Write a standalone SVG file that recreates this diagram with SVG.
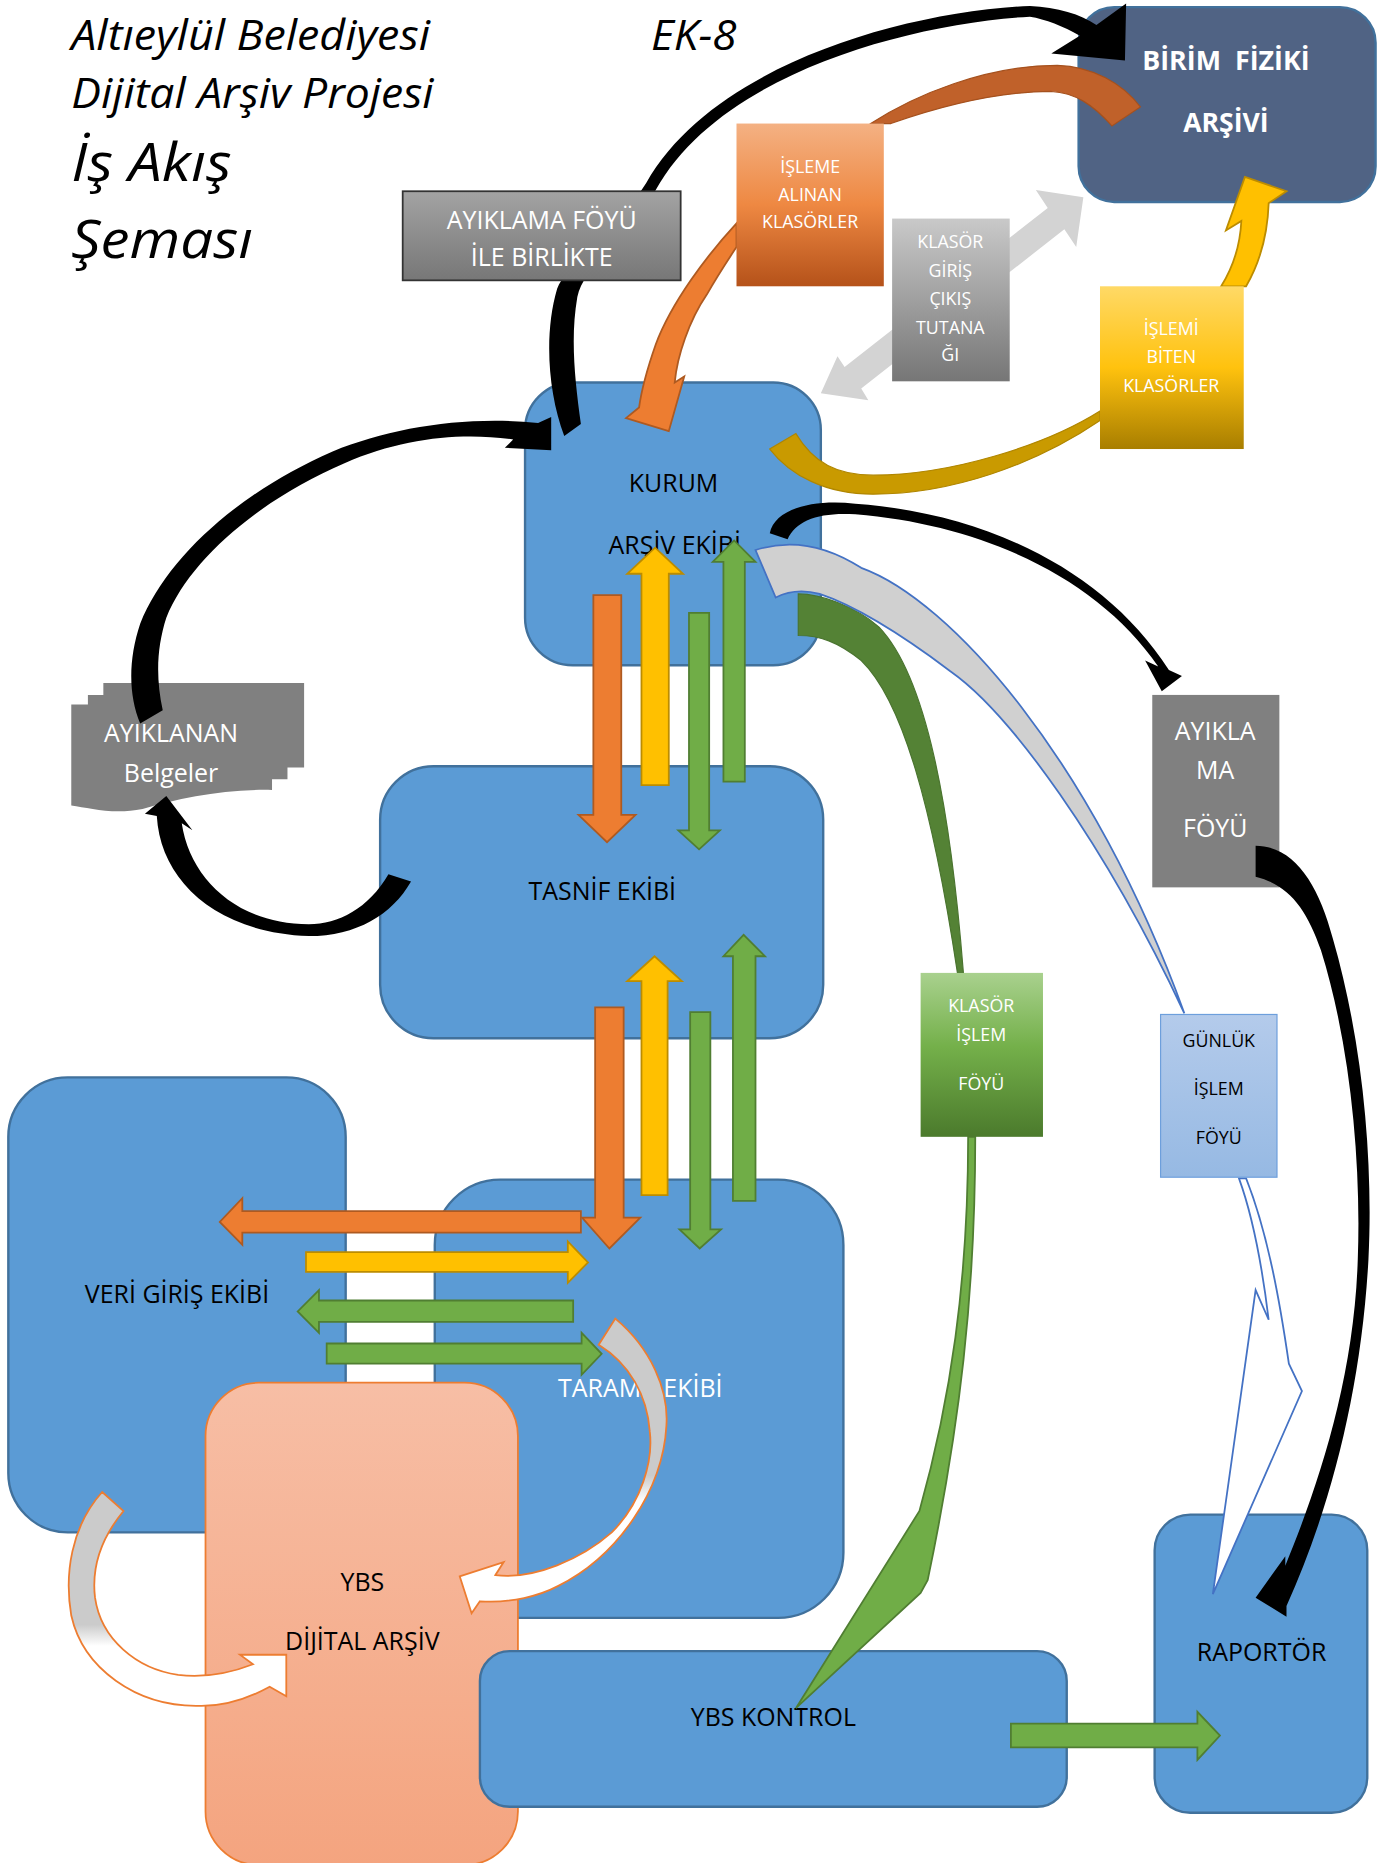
<svg xmlns="http://www.w3.org/2000/svg" width="1391" height="1863" viewBox="0 0 1391 1863">
<defs>
<style>
.f{font-family:"Open Sans","Liberation Sans",sans-serif}
.ti{font-family:"Open Sans","Liberation Sans",sans-serif;font-style:italic;fill:#000}
.lb{font-size:21px;fill:#000;text-anchor:middle}
.lw{font-size:21px;fill:#fff;text-anchor:middle}
.sw{font-size:15px;fill:#fff;text-anchor:middle}
.sb{font-size:15px;fill:#000;text-anchor:middle}
.box{fill:#5b9bd5;stroke:#41719c;stroke-width:2}
.or{fill:#ed7d31;stroke:#ae5a21;stroke-width:1.5}
.ye{fill:#ffc000;stroke:#bc8c00;stroke-width:1.5}
.gr{fill:#70ad47;stroke:#507e32;stroke-width:1.5}
.bk{fill:#000}
</style>
<linearGradient id="gOr" x1="0" y1="0" x2="0" y2="1"><stop offset="0" stop-color="#f4b183"/><stop offset="0.5" stop-color="#ee8842"/><stop offset="1" stop-color="#b5521a"/></linearGradient>
<linearGradient id="gGray" x1="0" y1="0" x2="0" y2="1"><stop offset="0" stop-color="#c9c9c9"/><stop offset="1" stop-color="#767676"/></linearGradient>
<linearGradient id="gYel" x1="0" y1="0" x2="0" y2="1"><stop offset="0" stop-color="#ffd966"/><stop offset="0.5" stop-color="#ffc20e"/><stop offset="1" stop-color="#a87e00"/></linearGradient>
<linearGradient id="gGrn" x1="0" y1="0" x2="0" y2="1"><stop offset="0" stop-color="#a9d18e"/><stop offset="0.45" stop-color="#74b04a"/><stop offset="1" stop-color="#4b7a2c"/></linearGradient>
<linearGradient id="gBlu" x1="0" y1="0" x2="0" y2="1"><stop offset="0" stop-color="#b4cbeb"/><stop offset="1" stop-color="#96b9e3"/></linearGradient>
<linearGradient id="gDark" x1="0" y1="0" x2="0" y2="1"><stop offset="0" stop-color="#a3a3a3"/><stop offset="1" stop-color="#777777"/></linearGradient>
<linearGradient id="gPeach" x1="0" y1="0" x2="0" y2="1"><stop offset="0" stop-color="#f7bea5"/><stop offset="1" stop-color="#f4a47f"/></linearGradient>
<linearGradient id="gJ" gradientUnits="userSpaceOnUse" x1="0" y1="1110" x2="0" y2="1350"><stop offset="0" stop-color="#cbcbcb"/><stop offset="0.55" stop-color="#cbcbcb"/><stop offset="0.64" stop-color="#ffffff"/></linearGradient>
<linearGradient id="gK" gradientUnits="userSpaceOnUse" x1="0" y1="1256" x2="0" y2="1436"><stop offset="0" stop-color="#cbcbcb"/><stop offset="0.62" stop-color="#cbcbcb"/><stop offset="0.72" stop-color="#ffffff"/></linearGradient>
</defs>
<rect width="1391" height="1863" fill="#ffffff"/>
<g transform="scale(1.1879)">

<g id="title">
<text class="ti" x="60" y="42" font-size="35" textLength="302" lengthAdjust="spacingAndGlyphs">Altıeylül Belediyesi</text>
<text class="ti" x="60" y="91" font-size="35" textLength="305" lengthAdjust="spacingAndGlyphs">Dijital Arşiv Projesi</text>
<text class="ti" x="60" y="152" font-size="44" textLength="135" lengthAdjust="spacingAndGlyphs">İş Akış</text>
<text class="ti" x="60" y="217" font-size="44" textLength="153" lengthAdjust="spacingAndGlyphs">Şeması</text>
<text class="ti" x="548" y="42" font-size="35" textLength="72" lengthAdjust="spacingAndGlyphs">EK-8</text>
</g>

<g id="birim-fiziki-arsivi">
<rect x="908" y="6" width="250" height="164" rx="30" fill="#506384" stroke="#41719c" stroke-width="2"/>
<text class="f" x="1032" y="59" font-size="22" font-weight="bold" fill="#fff" text-anchor="middle" xml:space="preserve" textLength="141" lengthAdjust="spacingAndGlyphs">BİRİM  FİZİKİ</text>
<text class="f" x="1032" y="111" font-size="22" font-weight="bold" fill="#fff" text-anchor="middle" textLength="72" lengthAdjust="spacingAndGlyphs">ARŞİVİ</text>
</g>

<g id="kurum-arsiv-ekibi">
<rect class="box" x="442" y="322" width="249" height="238" rx="40"/>
<text class="f lb" x="567" y="414">KURUM</text>
<text class="f lb" x="568" y="466">ARŞİV EKİBİ</text>
</g>

<g id="tasnif-ekibi">
<rect class="box" x="320" y="645" width="373" height="229" rx="45"/>
<text class="f lb" x="507" y="758">TASNİF EKİBİ</text>
</g>

<g id="veri-giris-ekibi">
<rect class="box" x="7" y="907" width="284" height="383" rx="50"/>
<text class="f lb" x="149" y="1097">VERİ GİRİŞ EKİBİ</text>
</g>

<g id="tarama-ekibi">
<rect class="box" x="366" y="993" width="344" height="369" rx="55"/>
<text class="f lw" x="539" y="1176">TARAMA EKİBİ</text>
</g>

<g id="ybs-dijital-arsiv">
<rect x="173" y="1164" width="263" height="406" rx="45" fill="url(#gPeach)" stroke="#ed7d31" stroke-width="1.5"/>
<text class="f lb" x="305" y="1339">YBS</text>
<text class="f lb" x="305" y="1389">DİJİTAL ARŞİV</text>
</g>

<g id="ybs-kontrol">
<rect class="box" x="404" y="1390" width="494" height="131" rx="25"/>
<text class="f lb" x="651" y="1453">YBS KONTROL</text>
</g>

<g id="raportor">
<rect class="box" x="972" y="1275" width="179" height="251" rx="30"/>
<text class="f lb" x="1062" y="1398">RAPORTÖR</text>
</g>

<g id="ayiklanan-belgeler">
<path d="M60,593 H74 V585 H87 V575 H256 V646 H242 V656 H229 V665 C190,664 150,672 120,681 C95,686 75,680 60,678 Z" fill="#808080"/>
<text class="f lw" x="144" y="625">AYIKLANAN</text>
<text class="f lw" x="144" y="658">Belgeler</text>
</g>

<g id="ayiklama-foyu">
<rect x="970" y="585" width="107" height="162" fill="#808080"/>
<text class="f lw" x="1023" y="623">AYIKLA</text>
<text class="f lw" x="1023" y="656">MA</text>
<text class="f lw" x="1023" y="705">FÖYÜ</text>
</g>

<g id="connectors">
<path class="bk" d="M475,367 C461,330 458,280 469,243 C478,220 518,196 544,154 C600,55 760,10 867,5 C890,6 910,12 923,21 L948,3 L947,51 L885,45 L909,30 C895,22 880,16 867,14 C765,20 606,62 552,160 C528,203 492,222 486,250 C480,285 484,320 489,357 Z"/>
<path d="M733,104 C770,80 830,55 890,55 C920,56 945,70 960,90 L936,106 C920,88 905,78 885,77 C840,77 790,90 750,104 Z" fill="#c0612a" stroke="#a5511e" stroke-width="1"/>
<path class="or" d="M620,188 C595,215 565,255 552,290 C545,310 540,328 538,343 L527,352 L563,363 L576,317 L568,322 C570,300 580,270 595,248 C603,234 612,220 620,208 Z"/>
<path d="M691,331 L705,300 L711,309 L882,175 L872,160 L912,166 L906,208 L896,193 L725,327 L731,337 Z" fill="#d3d3d3"/>
<path class="ye" d="M1028,241 C1038,225 1044,205 1045,186 L1032,194 L1048,149 L1083,161 L1068,171 C1067,200 1060,222 1049,241 Z"/>
<path d="M670,365 C685,390 705,400 735,400 C800,400 880,375 926,346 L926,354 C870,392 800,416 735,416 C695,416 665,400 648,378 Z" fill="#c99a00" stroke="#b08600" stroke-width="1"/>
<path class="bk" d="M118,609 C108,585 108,555 118,525 C140,470 200,415 280,380 C330,360 390,350 453,356 L464,351 L464,379 L425,377 L432,370 C390,364 340,368 290,390 C220,420 160,470 140,520 C132,545 131,570 137,598 Z"/>
<path class="bk" d="M346,742 C330,770 300,788 260,788 C180,785 135,740 132,687 L122,685 L140,670 L162,699 L153,693 C160,740 200,778 260,778 C285,778 310,765 327,736 Z"/>
<path class="bk" d="M648,449 C652,428 685,420 720,424 C830,432 930,480 984,564 L995,569 L978,582 L964,556 L975,561 C925,488 830,442 720,433 C690,431 670,438 663,454 Z"/>
<path d="M672,500 C690,500 720,510 740,528 C780,570 800,680 811,819 L806,819 C785,680 760,590 725,556 C705,540 690,535 672,535 Z" fill="#548235" stroke="#4a742f" stroke-width="1"/>
<path d="M636,463 C670,452 700,462 725,478 C800,505 920,640 997,853 C930,710 850,600 800,565 C760,535 720,510 690,500 C675,496 663,498 653,503 Z" fill="#d0d0d0" stroke="#4472c4" stroke-width="1.5"/>
<path class="gr" d="M815,957 L821,957 C821,1090 808,1200 781,1330 L775,1341 L670,1438 L774,1272 C800,1180 815,1080 815,957 Z"/>
<path d="M1043,992 C1055,1025 1063,1070 1068,1111 L1057,1086 L1021,1342 L1096,1171 L1085,1148 C1078,1100 1068,1040 1049,992 Z" fill="#ffffff" stroke="#4472c4" stroke-width="1.5"/>
<path class="bk" d="M1057,712 C1090,712 1110,745 1122,790 C1148,880 1156,980 1152,1060 C1146,1170 1120,1270 1083,1352 L1083,1361 L1057,1345 L1082,1310 L1082,1318 C1110,1250 1140,1160 1143,1060 C1146,980 1137,880 1112,800 C1100,765 1085,745 1057,738 Z"/>
<polygon class="or" points="499.5,501 523,501 523,686 535,686 511,709 487,686 499.5,686"/>
<polygon class="ye" points="540,661 563,661 563,483 575,483 551.5,461 528,483 540,483"/>
<polygon class="gr" points="580,516 597,516 597,699 606,699 588.5,715 571,699 580,699"/>
<polygon class="gr" points="609,658 627,658 627,473 636,473 618,455 600,473 609,473"/>
<polygon class="or" points="501,848 525,848 525,1025 539,1025 513,1051 490,1025 501,1025"/>
<polygon class="ye" points="540,1006 562,1006 562,826 574,826 551,805 528,826 540,826"/>
<polygon class="gr" points="581,852 598,852 598,1035 607,1035 589,1051 572,1035 581,1035"/>
<polygon class="gr" points="617,1011 636,1011 636,805 644,805 626,787 609,805 617,805"/>
<polygon class="or" points="489,1019.5 489,1037.6 204,1037.6 204,1048 185,1028.7 204,1008.6 204,1019.5"/>
<polygon class="ye" points="257.6,1054 478,1054 478,1045 495,1062.8 478,1080 478,1070.7 257.6,1070.7"/>
<polygon class="gr" points="482.5,1094.8 482.5,1112.8 268.5,1112.8 268.5,1122 250.6,1104 268.5,1086 268.5,1094.8"/>
<polygon class="gr" points="275,1131 489.6,1131 489.6,1122 506.5,1139.7 489.6,1157.4 489.6,1148 275,1148"/>
<path d="M518,1110 C548,1135 563,1170 561,1200 C558,1255 520,1310 470,1335 C455,1343 430,1350 404,1348 L397,1358 L387,1327 L424,1315 L417,1326 C450,1330 490,1312 515,1290 C540,1265 550,1230 547,1205 C545,1175 530,1148 504,1132 Z" fill="url(#gJ)" stroke="#ed7d31" stroke-width="1.5"/>
<path d="M86,1256 L104,1272 C85,1295 77,1320 80,1345 C85,1380 115,1405 150,1410 C175,1413 195,1408 213,1401 L202,1393 L241,1393 L241,1428 L227,1420 C205,1432 185,1437 165,1436 C115,1436 70,1405 60,1360 C54,1325 60,1285 86,1256 Z" fill="url(#gK)" stroke="#ed7d31" stroke-width="1.5"/>
<polygon class="gr" points="851,1451 1008,1451 1008,1441 1027,1461 1008,1481.5 1008,1471 851,1471"/>
</g>

<g id="ayiklama-foyu-ile-birlikte">
<rect x="339" y="161" width="234" height="75" fill="url(#gDark)" stroke="#333333" stroke-width="1.5"/>
<text class="f lw" x="456" y="193">AYIKLAMA FÖYÜ</text>
<text class="f lw" x="456" y="224">İLE BİRLİKTE</text>
</g>

<g id="isleme-alinan-klasorler">
<rect x="620" y="104" width="124" height="137" fill="url(#gOr)"/>
<text class="f sw" x="682" y="146">İŞLEME</text>
<text class="f sw" x="682" y="169">ALINAN</text>
<text class="f sw" x="682" y="192">KLASÖRLER</text>
</g>

<g id="klasor-giris-cikis-tutanagi">
<rect x="751" y="184" width="99" height="137" fill="url(#gGray)"/>
<text class="f sw" x="800" y="209">KLASÖR</text>
<text class="f sw" x="800" y="233">GİRİŞ</text>
<text class="f sw" x="800" y="257">ÇIKIŞ</text>
<text class="f sw" x="800" y="281">TUTANA</text>
<text class="f sw" x="800" y="304">ĞI</text>
</g>

<g id="islemi-biten-klasorler">
<rect x="926" y="241" width="121" height="137" fill="url(#gYel)"/>
<text class="f sw" x="986" y="282">İŞLEMİ</text>
<text class="f sw" x="986" y="306">BİTEN</text>
<text class="f sw" x="986" y="330">KLASÖRLER</text>
</g>

<g id="klasor-islem-foyu">
<rect x="775" y="819" width="103" height="138" fill="url(#gGrn)"/>
<text class="f sw" x="826" y="852">KLASÖR</text>
<text class="f sw" x="826" y="876">İŞLEM</text>
<text class="f sw" x="826" y="918">FÖYÜ</text>
</g>

<g id="gunluk-islem-foyu">
<rect x="977" y="854" width="98" height="137" fill="url(#gBlu)" stroke="#6d9fdc" stroke-width="1"/>
<text class="f sb" x="1026" y="881">GÜNLÜK</text>
<text class="f sb" x="1026" y="922">İŞLEM</text>
<text class="f sb" x="1026" y="963">FÖYÜ</text>
</g>

</g>
</svg>
